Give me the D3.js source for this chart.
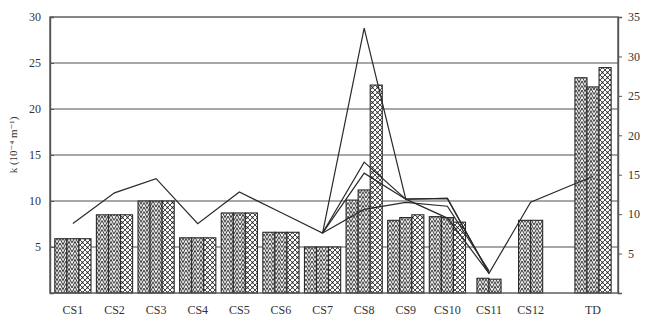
<!DOCTYPE html>
<html>
<head>
<meta charset="utf-8">
<script src="https://cdn.jsdelivr.net/npm/d3@7"></script>
<style>
  html, body { margin: 0; padding: 0; background: #fff; }
  svg { display: block; }
  text { font-family: "Liberation Serif", "DejaVu Serif", serif; fill: #333; }
</style>
</head>
<body>
<script>
// Specimens along the x axis (a gap is left before TD)
const categories = ["CS1", "CS2", "CS3", "CS4", "CS5", "CS6", "CS7", "CS8", "CS9", "CS10", "CS11", "CS12", "TD"];

// Bar values, left axis k (three measurements per specimen)
const kBar1 = [5.9, 8.5, 10.0, 6.0, 8.7, 6.6, 5.0, 10.1, 7.9, 8.3, 1.6, 7.9, 23.4];
const kBar2 = [5.9, 8.5, 10.0, 6.0, 8.7, 6.6, 5.0, 11.2, 8.2, 8.2, 1.5, 7.9, 22.4];
const kBar3 = [5.9, 8.5, 10.0, 6.0, 8.7, 6.6, 5.0, 22.6, 8.5, 7.7, null, null, 24.5];

// Line values, right axis (%)
const pctA = [8.8, 12.7, 14.5, 8.8, 12.8, 10.2, 7.6, 33.6, 11.9, 12.0, 2.5, 11.5, 14.8];
const pctB = [null, null, null, null, null, null, 7.6, 16.6, 11.9, 12.0, 2.5, null, null];
const pctC = [null, null, null, null, null, null, 7.6, 15.2, 11.9, 9.5, 2.5, null, null];
const pctD = [null, null, null, null, null, null, 7.6, 10.6, 11.5, 11.0, 2.8, null, null];

// Axis ticks
const leftTicks = [5, 10, 15, 20, 25, 30];
const rightTicks = [5, 10, 15, 20, 25, 30, 35];
const leftTitle = "k (10\u207B\u2074 m\u207B\u00B9)";

const W = 653, H = 329;
const M = { left: 50, right: 35, top: 17, bottom: 36 };
const plotR = W - M.right, plotB = H - M.bottom;

const svg = d3.select("body").append("svg").attr("width", W).attr("height", H);

// Fill patterns: two herringbones (columns of slanted strokes) and a dotted cross-hatch
const defs = svg.append("defs");
function herring(id, up) {
  const w = 6, h = 4.5;
  const p = defs.append("pattern").attr("id", id).attr("patternUnits", "userSpaceOnUse")
    .attr("width", w).attr("height", h);
  p.append("rect").attr("width", w).attr("height", h).attr("fill", "#fff");
  const s = up ? -1 : 1;
  let d = "";
  for (const o of [-2 * h, -h, 0, h, 2 * h]) {
    d += `M0,${o} L${w / 2},${o + s * 6} L${w},${o} `;
  }
  p.append("path").attr("d", d).attr("stroke", "#333").attr("stroke-width", 1).attr("fill", "none");
}
herring("pat1", false);
herring("pat2", true);
const cp = defs.append("pattern").attr("id", "pat3").attr("patternUnits", "userSpaceOnUse")
  .attr("width", 5).attr("height", 5);
cp.append("rect").attr("width", 5).attr("height", 5).attr("fill", "#fff");
cp.append("path").attr("d", "M0,0 L5,5 M5,0 L0,5").attr("stroke", "#333").attr("stroke-width", 0.9);
cp.append("circle").attr("cx", 2.5).attr("cy", 2.5).attr("r", 0.9).attr("fill", "#222");

// Slot index per category: TD sits after a half-slot gap
const slot = categories.map((c, i) => (c === "TD" ? i + 0.5 : i));

const x = d3.scaleLinear().domain([-0.55, 13.1]).range([M.left, plotR]);
const yL = d3.scaleLinear().domain([0, 30]).range([plotB, M.top]);
const yR = d3.scaleLinear().domain([0, 35]).range([plotB, M.top]);
const step = x(1) - x(0);
const subW = step * 0.29;

// Gridlines
svg.append("g").selectAll("line").data(leftTicks.filter(t => t < 30)).join("line")
  .attr("x1", M.left).attr("x2", plotR)
  .attr("y1", d => yL(d)).attr("y2", d => yL(d))
  .attr("stroke", "#8a8a8a").attr("stroke-width", 1.3);

// Bars
const barSeries = [kBar1, kBar2, kBar3];
const bars = [];
categories.forEach((c, i) => {
  const vals = barSeries.map(s => s[i]);
  const n = vals.filter(v => v != null).length;
  const x0 = x(slot[i]) - (n * subW) / 2;
  let k = 0;
  vals.forEach((v, j) => {
    if (v == null) return;
    bars.push({ x: x0 + k * subW, v, j });
    k++;
  });
});
svg.append("g").selectAll("rect").data(bars).join("rect")
  .attr("x", d => d.x).attr("width", subW)
  .attr("y", d => yL(d.v)).attr("height", d => plotB - yL(d.v))
  .attr("fill", d => `url(#pat${d.j + 1})`)
  .attr("stroke", "#2a2a2a").attr("stroke-width", 1.1);

// Lines
const line = d3.line()
  .defined(d => d.v != null)
  .x(d => x(d.s)).y(d => yR(d.v));
[pctA, pctB, pctC, pctD].forEach(s => {
  svg.append("path")
    .datum(s.map((v, i) => ({ v, s: slot[i] })))
    .attr("d", line)
    .attr("fill", "none").attr("stroke", "#2a2a2a").attr("stroke-width", 1.2);
});

// Frame
svg.append("rect").attr("x", M.left).attr("y", M.top)
  .attr("width", plotR - M.left).attr("height", plotB - M.top)
  .attr("fill", "none").attr("stroke", "#555").attr("stroke-width", 1.4);

// Axes
const axL = svg.append("g").attr("transform", `translate(${M.left},0)`)
  .call(d3.axisLeft(yL).tickValues(leftTicks).tickSize(-4).tickPadding(9));
const axR = svg.append("g").attr("transform", `translate(${plotR},0)`)
  .call(d3.axisRight(yR).tickValues(rightTicks).tickSize(4).tickPadding(6));
[axL, axR].forEach(a => {
  a.select(".domain").attr("stroke", "#555").attr("stroke-width", 1.4);
  a.selectAll(".tick line").attr("stroke", "#555");
  a.selectAll("text").attr("font-size", 12).attr("fill", "#333")
    .style("font-family", '"Liberation Serif", serif');
});

// Category labels
svg.append("g").selectAll("text").data(categories).join("text")
  .attr("x", (d, i) => x(slot[i]))
  .attr("y", plotB + 21)
  .attr("text-anchor", "middle").attr("font-size", 12)
  .text(d => d);

// Left axis title
svg.append("text")
  .attr("transform", `translate(17,${(M.top + plotB) / 2 - 10}) rotate(-90)`)
  .attr("text-anchor", "middle").attr("font-size", 11)
  .text(leftTitle);
</script>
</body>
</html>
